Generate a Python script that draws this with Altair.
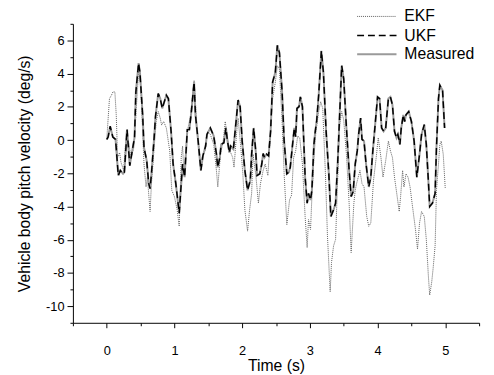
import altair as alt
import pandas as pd

# Measured and UKF (these two curves overlap in the picture)
main_t = [0.00,0.02,0.05,0.09,0.13,0.17,0.20,0.24,0.26,0.30,0.32,0.34,0.38,0.41,0.43,0.47,0.49,0.53,0.55,0.59,
          0.62,0.64,0.66,0.70,0.72,0.76,0.79,0.82,0.88,0.91,0.95,0.98,1.02,1.07,1.11,1.12,1.15,1.19,1.22,1.25,
          1.29,1.31,1.35,1.39,1.42,1.46,1.48,1.53,1.58,1.62,1.64,1.67,1.69,1.73,1.76,1.78,1.81,1.83,1.87,1.91,
          1.94,1.97,2.00,2.04,2.08,2.12,2.14,2.17,2.20,2.22,2.26,2.29,2.31,2.33,2.36,2.39,2.42,2.45,2.49,2.52,
          2.55,2.59,2.62,2.66,2.69,2.71,2.74,2.77,2.79,2.81,2.84,2.86,2.89,2.91,2.93,2.96,2.98,3.01,3.03,3.06,
          3.08,3.10,3.13,3.17,3.20,3.24,3.28,3.31,3.35,3.38,3.41,3.44,3.47,3.50,3.54,3.58,3.61,3.64,3.67,3.70,
          3.72,3.75,3.77,3.80,3.83,3.87,3.90,3.93,3.96,4.00,4.03,4.06,4.09,4.12,4.16,4.19,4.22,4.25,4.28,4.30,
          4.33,4.35,4.38,4.40,4.42,4.46,4.50,4.54,4.58,4.62,4.65,4.69,4.72,4.75,4.77,4.81,4.85,4.87,4.90,4.92,
          4.96,4.99]
main_v = [0.04,0.18,0.83,0.18,0.04,-2.13,-1.83,-2.03,-1.93,0.63,-0.45,-1.54,-0.55,0.14,2.9,4.63,4.08,1.52,-0.45,-1.24,
          -2.62,-2.92,-2.03,0.14,1.42,2.8,2.5,1.91,2.7,2.5,0.53,-1.44,-2.62,-4.4,-2.03,-1.44,-2.23,0.63,0.63,1.72,
          3.49,1.52,-0.06,-1.83,-0.95,-0.36,0.34,0.73,0.24,-0.85,-1.64,-1.05,-0.26,-0.16,0.73,0.04,-0.75,-0.36,-0.55,1.12,
          2.41,2.01,-0.06,-1.83,-3.02,-2.43,-0.85,0.73,-0.65,-2.13,-2.03,-1.44,-0.81,-1.05,-0.85,-0.95,0.53,3.49,4.08,5.7,
          5.27,2.9,-0.06,-2.03,-1.93,-1.64,-0.45,0.73,0.2,1.91,2.01,2.6,2.01,-0.06,-2.23,-3.8,-3.21,-3.61,-3.02,-0.26,
          0.53,1.12,2.7,5.37,4.08,0.53,-2.03,-4.6,-4.2,-3.8,-1.44,1.52,4.48,3.69,0.73,-1.83,-3.4,-3.1,-1.44,-0.65,
          0.34,1.32,0.04,-0.06,-1.44,-2.82,-2.23,-0.65,0.73,2.6,2.5,0.73,0.53,0.73,2.5,2.6,2.11,0.53,0.14,0.34,
          -0.26,0.73,1.52,1.12,1.52,1.72,1.12,-0.06,-2.23,-0.85,0.34,0.93,-0.26,-2.43,-4.0,-3.8,-3.21,-0.45,2.5,3.3,
          3.0,0.73]

ekf_t = [0.00,0.04,0.07,0.09,0.12,0.14,0.16,0.19,0.21,0.25,0.29,0.32,0.36,0.40,0.43,0.47,0.50,0.55,0.58,0.60,
         0.64,0.66,0.70,0.73,0.76,0.79,0.81,0.84,0.88,0.93,0.96,1.00,1.04,1.07,1.10,1.12,1.14,1.19,1.24,1.29,
         1.33,1.38,1.41,1.45,1.49,1.53,1.58,1.62,1.64,1.68,1.72,1.75,1.79,1.82,1.86,1.88,1.92,1.94,1.98,2.01,
         2.04,2.08,2.11,2.14,2.16,2.20,2.24,2.27,2.31,2.34,2.38,2.42,2.45,2.49,2.52,2.55,2.59,2.62,2.66,2.70,
         2.73,2.76,2.79,2.82,2.85,2.89,2.91,2.93,2.96,2.98,3.01,3.03,3.06,3.09,3.13,3.16,3.19,3.23,3.26,3.30,
         3.32,3.35,3.38,3.41,3.44,3.47,3.50,3.54,3.58,3.61,3.65,3.67,3.69,3.74,3.77,3.80,3.84,3.87,3.90,3.94,
         3.98,4.01,4.05,4.08,4.12,4.16,4.19,4.22,4.25,4.29,4.32,4.34,4.37,4.39,4.42,4.45,4.48,4.51,4.56,4.59,
         4.62,4.65,4.69,4.72,4.75,4.77,4.80,4.82,4.85,4.87,4.90,4.92,4.94,4.97,5.00]
ekf_v = [0.04,2.5,2.7,2.9,2.9,1.52,-1.05,-0.75,-1.34,-1.83,0.53,-0.06,-1.05,-0.45,1.52,4.08,3.49,-1.44,-2.82,-2.23,
         -4.3,-2.62,-0.45,1.12,1.72,1.32,0.9,1.12,0.73,-0.65,-3.02,-3.41,-4.2,-5.19,-1.05,-0.36,-2.03,0.53,1.52,3.59,
         0.93,-1.24,-1.05,-0.65,0.53,0.34,-0.26,-1.83,-2.82,-0.85,-0.06,1.12,-0.06,-0.65,-1.05,-1.64,0.53,1.32,-0.45,-2.03,
         -4.2,-5.48,-4.2,-3.21,-0.85,-2.03,-3.8,-2.62,-1.83,-1.44,-2.13,0.53,2.5,3.49,4.48,4.28,1.12,-2.03,-5.09,-3.6,
         -3.31,-1.05,-0.65,0.24,0.14,-1.44,-3.02,-4.6,-6.47,-4.79,-5.38,-3.41,-1.05,0.53,1.72,2.31,1.91,-2.03,-5.78,-9.13,
         -7.36,-6.37,-5.98,-2.43,0.93,1.72,1.22,-0.85,-3.8,-6.77,-3.8,-3.02,-2.62,-1.83,-2.62,-2.82,-4.6,-5.19,-4.99,-2.43,
         -1.05,0.14,-1.05,-2.23,-1.24,-0.06,-0.65,-1.05,-2.23,-3.41,-4.3,-3.41,-1.83,-2.82,-2.03,-2.23,-2.82,-3.8,-5.38,-6.57,
         -4.99,-4.3,-4.6,-5.98,-8.15,-9.33,-8.54,-7.75,-6.37,-3.02,-1.44,-0.26,-0.06,-0.85,-2.92]

series_names = ["EKF", "UKF", "Measured"]
series_colors = ["#606060", "#000000", "#9a9a9a"]
series_dashes = [[1, 1], [7, 4], [1, 0]]
series_widths = [1.0, 2.0, 1.5]

x_ticks = [-0.5, 0, 0.5, 1, 1.5, 2, 2.5, 3, 3.5, 4, 4.5, 5, 5.5]
y_ticks = list(range(-11, 8))

rows = []
for t, v in zip(ekf_t, ekf_v):
    rows.append({"t": t, "v": v, "s": "EKF"})
for t, v in zip(main_t, main_v):
    rows.append({"t": t, "v": v, "s": "Measured"})
    rows.append({"t": t, "v": v, "s": "UKF"})
df = pd.DataFrame(rows)

FONT = "Liberation Sans"

legend = alt.Legend(
    title=None, orient="none", legendX=288, legendY=-18,
    symbolType="M-1,0L3,0", symbolSize=400, labelFontSize=16, labelFont=FONT,
    labelColor="black", labelOffset=27, rowPadding=0,
)

base = alt.Chart(df).encode(
    x=alt.X("t:Q", scale=alt.Scale(domain=[-0.5, 5.5], nice=False, zero=False),
            axis=alt.Axis(values=x_ticks, labelExpr="datum.value % 1 == 0 ? '' + datum.value : ''",
                          title="Time (s)", grid=False,
                          tickSize={"condition": {"test": "datum.value % 1 == 0", "value": 5}, "value": 3},
                          labelPadding=17, titlePadding=1)),
    y=alt.Y("v:Q", scale=alt.Scale(domain=[-11, 7], nice=False, zero=False),
            axis=alt.Axis(values=y_ticks, labelExpr="datum.value % 2 == 0 ? '' + datum.value : ''",
                          title="Vehicle body pitch velocity (deg/s)", grid=False,
                          tickSize={"condition": {"test": "datum.value % 2 == 0", "value": 6}, "value": 3},
                          labelPadding=3, titlePadding=13)),
    color=alt.Color("s:N", scale=alt.Scale(domain=series_names, range=series_colors), legend=legend),
    strokeDash=alt.StrokeDash("s:N", scale=alt.Scale(domain=series_names, range=series_dashes), legend=legend),
    strokeWidth=alt.StrokeWidth("s:N", scale=alt.Scale(domain=series_names, range=series_widths), legend=legend),
)

layers = [base.transform_filter(alt.datum.s == name).mark_line()
          for name in ["EKF", "Measured", "UKF"]]

chart = alt.layer(*layers).properties(
    width=413, height=304,
    autosize=alt.AutoSizeParams(type="none"),
    padding={"left": 66, "top": 13, "right": 7, "bottom": 50},
).configure_view(stroke=None).configure_axis(
    domainColor="black", tickColor="black", labelColor="black", titleColor="black",
    labelFont=FONT, titleFont=FONT, labelFontSize=13, titleFontSize=16, titleFontWeight="normal",
    domainWidth=1, tickWidth=1,
)

chart.save("out.html", embed_options={"renderer": "svg", "actions": False})
